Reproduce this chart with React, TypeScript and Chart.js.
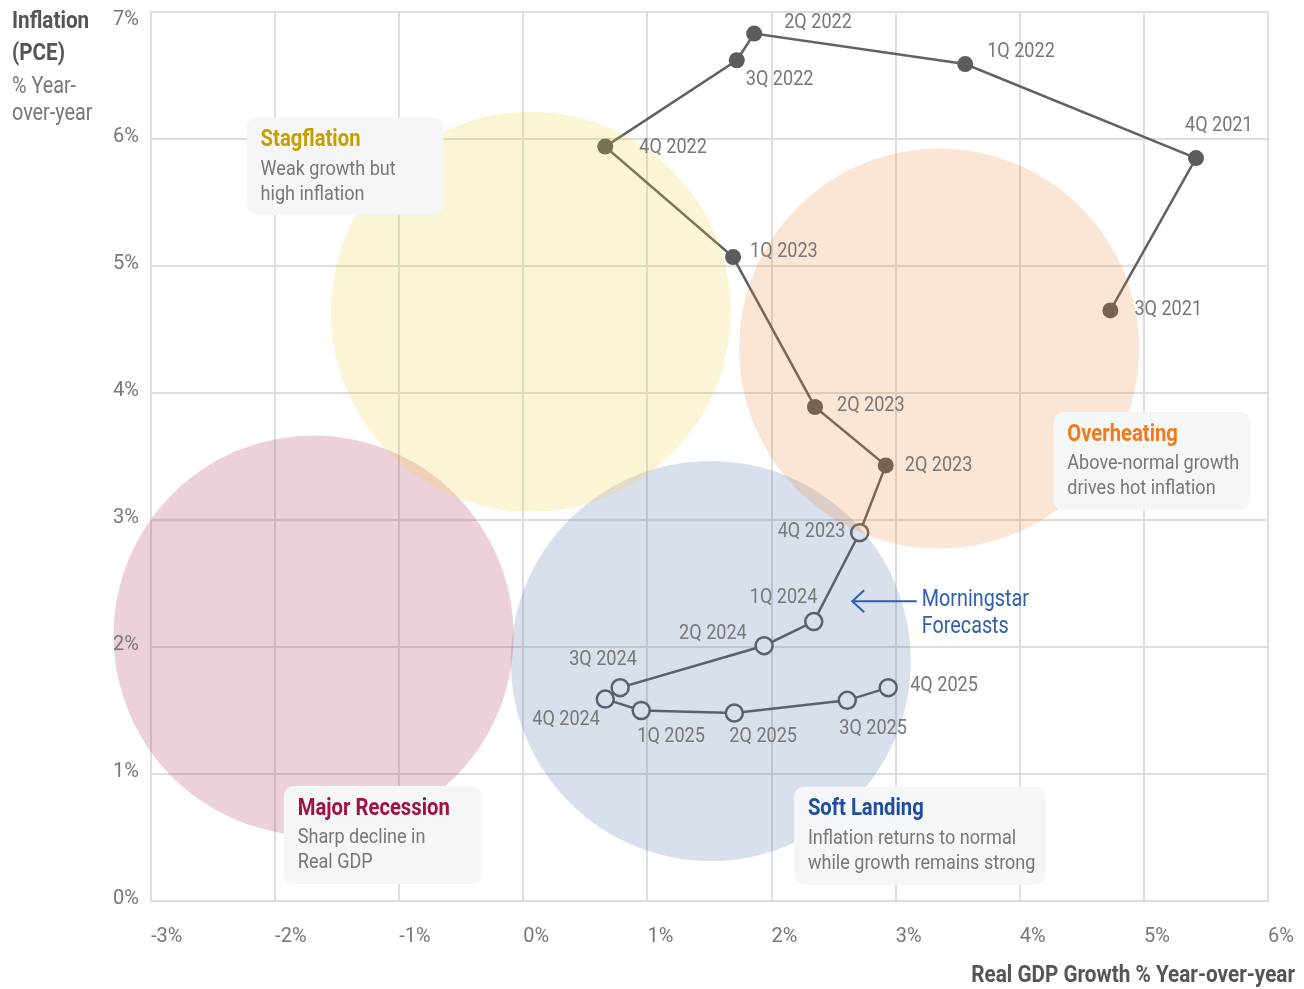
import { useEffect, useRef } from 'react';
import { Chart, registerables } from 'chart.js';

Chart.register(...registerables);

const FONT = 'Roboto, "Liberation Sans", sans-serif';

// ---- Data ----
const quarterLabels = [
  '3Q 2021', '4Q 2021', '1Q 2022', '2Q 2022', '3Q 2022', '4Q 2022', '1Q 2023', '2Q 2023', '2Q 2023',
  '4Q 2023', '1Q 2024', '2Q 2024', '3Q 2024', '4Q 2024', '1Q 2025', '2Q 2025', '3Q 2025', '4Q 2025',
];
const gdpGrowth = [4.73, 5.42, 3.56, 1.86, 1.72, 0.66, 1.69, 2.35, 2.92, 2.71, 2.34, 1.94, 0.78, 0.66, 0.95, 1.70, 2.61, 2.94];
const inflation = [4.65, 5.85, 6.59, 6.83, 6.62, 5.94, 5.07, 3.89, 3.43, 2.90, 2.20, 2.01, 1.68, 1.59, 1.50, 1.48, 1.58, 1.68];
const isForecast = [false, false, false, false, false, false, false, false, false, true, true, true, true, true, true, true, true, true];

const regionNames = ['Stagflation', 'Overheating', 'Major Recession', 'Soft Landing'];
const regionNotes = [
  ['Weak growth but', 'high inflation'],
  ['Above-normal growth', 'drives hot inflation'],
  ['Sharp decline in', 'Real GDP'],
  ['Inflation returns to normal', 'while growth remains strong'],
];
const regionCenterX = [0.06, 3.35, -1.69, 1.51];
const regionCenterY = [4.64, 4.35, 2.09, 1.89];

const xTicks = [-3, -2, -1, 0, 1, 2, 3, 4, 5, 6];
const yTicks = [0, 1, 2, 3, 4, 5, 6, 7];

// ---- Styles / layout of annotations ----
const regionTitleColors = ['#c7a000', '#f07a1e', '#a3123f', '#1f4e9e'];
const regionFills = [
  'rgba(242, 204, 45, 0.2)',
  'rgba(236, 126, 40, 0.2)',
  'rgba(165, 25, 65, 0.2)',
  'rgba(60, 100, 172, 0.2)',
];
const BUBBLE_RADIUS = 200;
// box anchors in data coords (left, top) and pixel size
const boxLeft = [-2.23, 4.27, -1.93, 2.18];
const boxTop = [6.17, 3.85, 0.905, 0.9];
const boxWidth = [197, 197, 198, 252];
const boxHeight = [97, 98, 98, 98];

// label offsets in px from point (left edge of text, vertical center)
const labelDX = [24, -11, 22, 30, 9, 34, 17, 22, 19, -82, -64, -85, -51, -73, -4, -5, -8, 22];
const labelDY = [-1, -32, -12, -11, 19, 1, -5, -1, 0, -1, -24, -12, -28, 21, 26, 24, 28, -2];

const CONDENSE = 0.86;

const zeroPadding = (s: any) => {
  s.paddingLeft = 0;
  s.paddingRight = 0;
  s.paddingTop = 0;
  s.paddingBottom = 0;
};

function condText(ctx: CanvasRenderingContext2D, text: string, x: number, y: number, sx: number, align: CanvasTextAlign = 'left') {
  ctx.save();
  ctx.translate(x, y);
  ctx.scale(sx, 1);
  ctx.textAlign = align;
  ctx.fillText(text, 0, 0);
  ctx.restore();
}

const overlayPlugin = {
  id: 'overlay',
  afterDatasetsDraw(chart: any) {
    const ctx = chart.ctx as CanvasRenderingContext2D;
    const xs = chart.scales.x;
    const ys = chart.scales.y;
    ctx.save();
    ctx.textBaseline = 'middle';

    // y tick labels
    ctx.font = `20px ${FONT}`;
    ctx.fillStyle = '#777777';
    yTicks.forEach((v) => {
      const py = ys.getPixelForValue(v);
      ctx.textAlign = 'right';
      ctx.fillText(`${v}%`, 139, Math.max(py - 2, 20));
    });

    // point labels
    ctx.font = `21px ${FONT}`;
    ctx.fillStyle = '#777777';
    quarterLabels.forEach((lab, i) => {
      const px = xs.getPixelForValue(gdpGrowth[i]);
      const py = ys.getPixelForValue(inflation[i]);
      condText(ctx, lab, px + labelDX[i], py + labelDY[i], CONDENSE);
    });

    // region boxes
    regionNames.forEach((name, i) => {
      const bx = xs.getPixelForValue(boxLeft[i]);
      const by = ys.getPixelForValue(boxTop[i]);
      const w = boxWidth[i];
      const h = boxHeight[i];
      ctx.beginPath();
      ctx.roundRect(bx, by, w, h, 10);
      ctx.fillStyle = '#f5f6f8';
      ctx.fill();
      ctx.font = `bold 23px ${FONT}`;
      ctx.fillStyle = regionTitleColors[i];
      condText(ctx, name, bx + 14, by + 23, 0.88);
      ctx.font = `21px ${FONT}`;
      ctx.fillStyle = '#777777';
      regionNotes[i].forEach((line, j) => {
        condText(ctx, line, bx + 14, by + 52 + j * 25, CONDENSE);
      });
    });

    // Morningstar forecasts arrow
    const ax1 = xs.getPixelForValue(2.65);
    const ax2 = xs.getPixelForValue(3.17);
    const ay = ys.getPixelForValue(2.36);
    ctx.strokeStyle = '#2f5fae';
    ctx.lineWidth = 2;
    ctx.beginPath();
    ctx.moveTo(ax2, ay);
    ctx.lineTo(ax1, ay);
    ctx.moveTo(ax1 + 12, ay - 11);
    ctx.lineTo(ax1, ay);
    ctx.lineTo(ax1 + 12, ay + 11);
    ctx.stroke();
    ctx.font = `23px ${FONT}`;
    ctx.fillStyle = '#2f5fae';
    condText(ctx, 'Morningstar', ax2 + 5, ay - 1, CONDENSE);
    condText(ctx, 'Forecasts', ax2 + 5, ay + 26, CONDENSE);
    ctx.restore();
  },
  afterDraw(chart: any) {
    const ctx = chart.ctx as CanvasRenderingContext2D;
    ctx.save();
    ctx.textBaseline = 'middle';
    ctx.font = `bold 23px ${FONT}`;
    ctx.fillStyle = '#555555';
    condText(ctx, 'Inflation', 12, 22, 0.9);
    condText(ctx, '(PCE)', 12, 54, 0.9);
    ctx.font = `23px ${FONT}`;
    ctx.fillStyle = '#777777';
    condText(ctx, '% Year-', 12, 87, CONDENSE);
    condText(ctx, 'over-year', 12, 114, CONDENSE);
    ctx.font = `bold 23px ${FONT}`;
    ctx.fillStyle = '#555555';
    condText(ctx, 'Real GDP Growth % Year-over-year', 1295, 976, 0.9, 'right');
    ctx.restore();
  },
};

export default function App() {
  const canvasRef = useRef<HTMLCanvasElement | null>(null);

  useEffect(() => {
    const canvas = canvasRef.current;
    if (!canvas) return;
    const bubbleSets = regionNames.map((name, i) => ({
      type: 'bubble' as const,
      label: name,
      data: [{ x: regionCenterX[i], y: regionCenterY[i], r: BUBBLE_RADIUS }],
      backgroundColor: regionFills[i],
      borderWidth: 0,
      hoverBorderWidth: 0,
      order: 0,
      clip: false as any,
    }));
    const points = gdpGrowth.map((x, i) => ({ x, y: inflation[i] }));
    const lineSet = {
      type: 'line' as const,
      label: 'Path',
      data: points,
      borderColor: '#616161',
      borderWidth: 2.5,
      showLine: true,
      fill: false,
      tension: 0,
      pointRadius: isForecast.map((f) => (f ? 8.5 : 8)),
      pointBackgroundColor: isForecast.map((f) => (f ? '#ffffff' : '#5c5c5c')),
      pointBorderColor: '#616161',
      pointBorderWidth: isForecast.map((f) => (f ? 2.5 : 0)),
      order: 1,
      clip: false as any,
    };
    const chart = new Chart(canvas, {
      type: 'bubble',
      data: { datasets: [...bubbleSets, lineSet] as any },
      options: {
        responsive: false,
        animation: false,
        devicePixelRatio: 1,
        events: [],
        layout: { autoPadding: false, padding: { top: 12, right: 36, left: 0, bottom: 0 } },
        plugins: { legend: { display: false }, tooltip: { enabled: false } },
        scales: {
          x: {
            type: 'linear',
            min: xTicks[0],
            max: xTicks[xTicks.length - 1],
            afterBuildTicks: (s: any) => { s.ticks = xTicks.map((v) => ({ value: v })); },
            afterFit: (s: any) => { s.height = 88; zeroPadding(s); },
            grid: { color: '#dedede', lineWidth: 2, drawTicks: false },
            border: { color: '#dedede', width: 2 },
            ticks: {
              align: 'start',
              padding: 24,
              color: '#777777',
              font: { family: FONT, size: 20 },
              callback: (v: any) => `${v}%`,
            },
          },
          y: {
            type: 'linear',
            min: yTicks[0],
            max: yTicks[yTicks.length - 1],
            afterBuildTicks: (s: any) => { s.ticks = yTicks.map((v) => ({ value: v })); },
            afterFit: (s: any) => { s.width = 151; zeroPadding(s); },
            grid: { color: '#dedede', lineWidth: 2, drawTicks: false },
            border: { color: '#dedede', width: 2 },
            ticks: { display: false },
          },
        },
      } as any,
      plugins: [overlayPlugin],
    });
    return () => chart.destroy();
  }, []);

  return (
    <div style={{ position: 'absolute', left: 0, top: 0, width: 1304, height: 989, background: '#ffffff' }}>
      <canvas ref={canvasRef} width={1304} height={989} style={{ width: 1304, height: 989, display: 'block' }} />
    </div>
  );
}
